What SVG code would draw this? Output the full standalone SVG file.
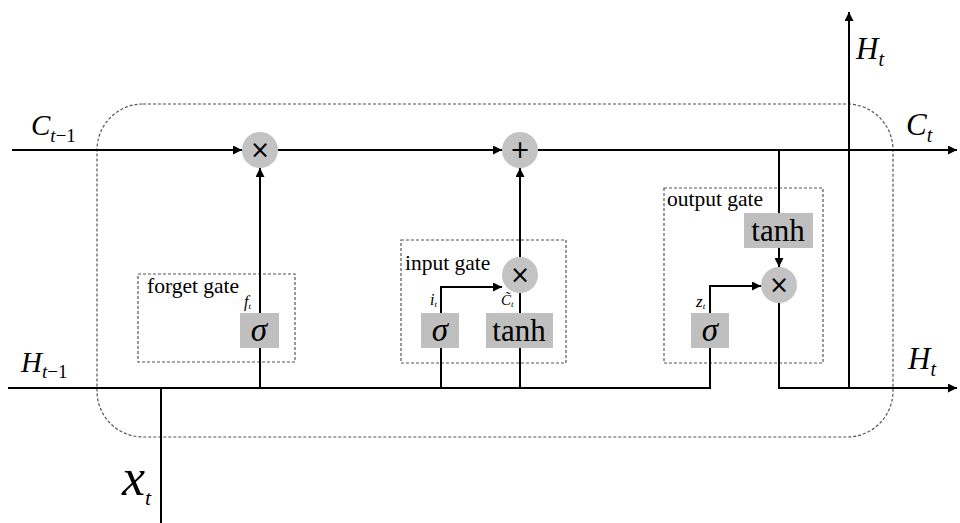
<svg xmlns="http://www.w3.org/2000/svg" width="960" height="523" viewBox="0 0 960 523">
  <defs>
    <marker id="arrow" viewBox="0 0 10 10" refX="10" refY="5" markerWidth="10" markerHeight="9" markerUnits="userSpaceOnUse" orient="auto">
      <path d="M0,0 L10,5 L0,10 z" fill="#000"/>
    </marker>
    <style>
      .wire { fill: none; stroke: #000; stroke-width: 2; }
      .arr { marker-end: url(#arrow); }
      .frame { fill: none; stroke: #555; stroke-width: 1.2; stroke-dasharray: 3 2; }
      .op { fill: #c3c3c3; }
      .box { fill: #bfbfbf; }
      .sym { font-family: "DejaVu Sans", sans-serif; font-size: 24px; text-anchor: middle; fill: #000; }
      .gate { font-family: "Liberation Serif", "Times New Roman", "DejaVu Serif", serif; font-size: 21.5px; fill: #000; }
      .fn { font-family: "Liberation Serif", "Times New Roman", "DejaVu Serif", serif; font-size: 31px; text-anchor: middle; fill: #000; }
      .sig { font-family: "Liberation Serif", "Times New Roman", "DejaVu Serif", serif; font-style: italic; font-size: 33px; text-anchor: middle; fill: #000; }
      .var { font-family: "Liberation Serif", "Times New Roman", "DejaVu Serif", serif; font-style: italic; fill: #000; }
    </style>
  </defs>

  <!-- LSTM cell boundary -->
  <rect class="frame" x="97" y="104" width="796" height="333" rx="46" ry="46"/>

  <!-- gate regions -->
  <g id="forget-gate">
    <rect class="frame" x="138" y="274" width="157" height="88"/>
    <text class="gate" x="147" y="293">forget gate</text>
  </g>
  <g id="input-gate">
    <rect class="frame" x="401" y="240" width="165" height="123"/>
    <text class="gate" x="405" y="270">input gate</text>
  </g>
  <g id="output-gate">
    <rect class="frame" x="664" y="188" width="159" height="175"/>
    <text class="gate" x="667" y="206">output gate</text>
  </g>

  <!-- connectors -->
  <g id="connectors">
    <path class="wire arr" d="M12,150 H242"/>
    <path class="wire arr" d="M278,150 H502"/>
    <path class="wire arr" d="M538,150 H957"/>
    <path class="wire" d="M8,388 H710 V348"/>
    <path class="wire" d="M161,523 V388"/>
    <path class="wire" d="M260,388 V348"/>
    <path class="wire arr" d="M260,313 V168"/>
    <path class="wire" d="M441,388 V348"/>
    <path class="wire arr" d="M441,313 V287 H502"/>
    <path class="wire" d="M520,388 V348"/>
    <path class="wire" d="M520,313 V293"/>
    <path class="wire arr" d="M520,257 V168"/>
    <path class="wire arr" d="M710,313 V286 H761"/>
    <path class="wire" d="M779,150 V213"/>
    <path class="wire arr" d="M779,248 V267"/>
    <path class="wire arr" d="M779,303 V388 H957"/>
    <path class="wire arr" d="M849,388 V12"/>
  </g>

  <!-- pointwise operations -->
  <g id="forget-mult">
    <circle class="op" cx="260" cy="150" r="18"/>
    <text class="sym" x="260" y="158">×</text>
  </g>
  <g id="cell-add">
    <circle class="op" cx="520" cy="150" r="18"/>
    <text class="sym" x="520" y="158">+</text>
  </g>
  <g id="input-mult">
    <circle class="op" cx="520" cy="275" r="18"/>
    <text class="sym" x="520" y="283">×</text>
  </g>
  <g id="output-mult">
    <circle class="op" cx="779" cy="285" r="18"/>
    <text class="sym" x="779" y="293">×</text>
  </g>

  <!-- activation layers -->
  <g id="forget-sigma">
    <rect class="box" x="240" y="313" width="39" height="35"/>
    <text class="sig" x="259" y="341">σ</text>
  </g>
  <g id="input-sigma">
    <rect class="box" x="421" y="313" width="38" height="35"/>
    <text class="sig" x="440" y="341">σ</text>
  </g>
  <g id="input-tanh">
    <rect class="box" x="486" y="313" width="67" height="35"/>
    <text class="fn" x="519" y="341">tanh</text>
  </g>
  <g id="output-sigma">
    <rect class="box" x="691" y="313" width="38" height="35"/>
    <text class="sig" x="710" y="341">σ</text>
  </g>
  <g id="output-tanh">
    <rect class="box" x="744" y="213" width="69" height="35"/>
    <text class="fn" x="778" y="241">tanh</text>
  </g>

  <!-- small gate signal labels -->
  <g id="signal-labels" class="var">
    <text x="244" y="307" font-size="16">f<tspan font-size="9" dy="2">t</tspan></text>
    <text x="430" y="305" font-size="16">i<tspan font-size="9" dy="2">t</tspan></text>
    <text x="501" y="305" font-size="15">C̃<tspan font-size="9" dy="2">t</tspan></text>
    <text x="696" y="307" font-size="17">z<tspan font-size="9" dy="2">t</tspan></text>
  </g>

  <!-- state labels -->
  <g id="state-labels" class="var">
    <text x="31" y="135" font-size="29">C<tspan font-size="19" dy="7">t</tspan><tspan font-style="normal" font-size="19">−1</tspan></text>
    <text x="21" y="372" font-size="29">H<tspan font-size="19" dy="6">t</tspan><tspan font-style="normal" font-size="19">−1</tspan></text>
    <text x="856" y="59" font-size="31">H<tspan font-size="20" dy="7">t</tspan></text>
    <text x="906" y="135" font-size="31">C<tspan font-size="20" dy="7">t</tspan></text>
    <text x="908" y="369" font-size="31">H<tspan font-size="20" dy="7">t</tspan></text>
    <text x="122" y="495" font-size="52">x<tspan font-size="22" dy="10">t</tspan></text>
  </g>
</svg>
